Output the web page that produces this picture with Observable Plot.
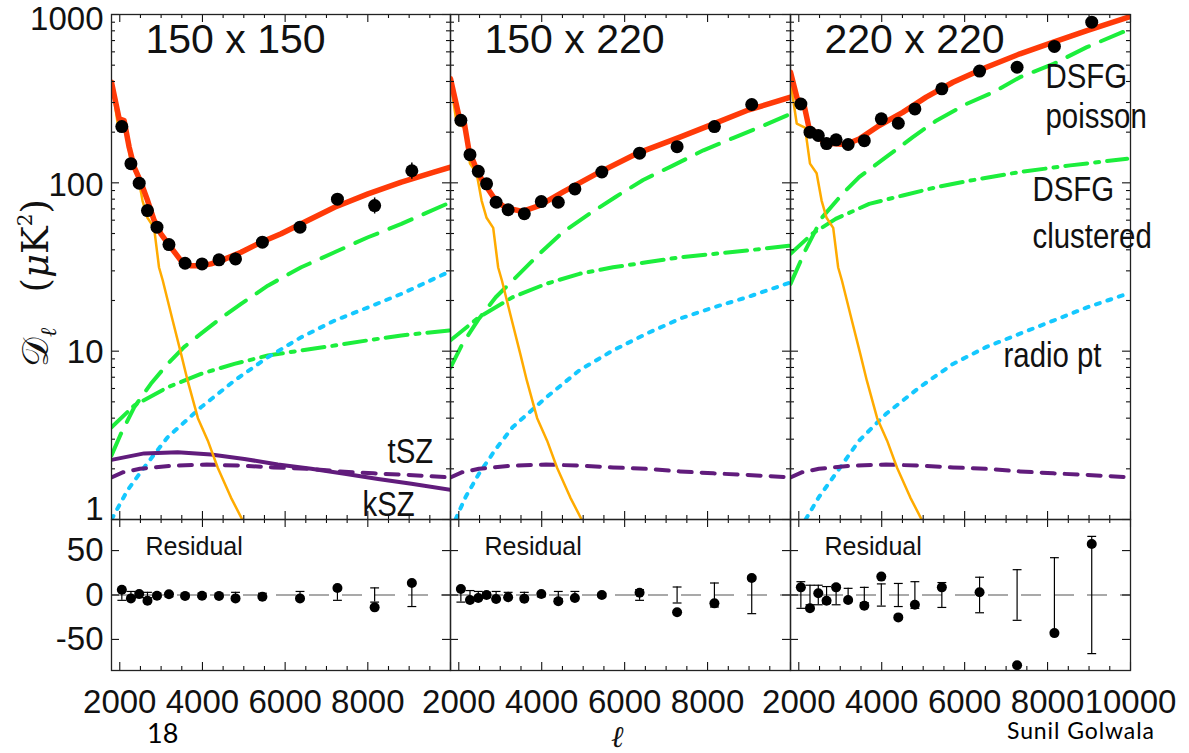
<!DOCTYPE html>
<html><head><meta charset="utf-8">
<script src="https://cdn.jsdelivr.net/npm/d3@7"></script>
<script src="https://cdn.jsdelivr.net/npm/@observablehq/plot@0.6"></script>
<style>
body{margin:0;background:#fff;}
#c{position:relative;width:1189px;height:753px;overflow:hidden;font-family:"Liberation Sans",Arial,sans-serif;}
#c svg{position:absolute;overflow:visible;}
.note{position:absolute;font-family:Lato,"Open Sans",sans-serif;color:#000;white-space:nowrap;line-height:1;}
.ylab{position:absolute;left:37px;top:283px;transform:translate(-50%,-50%) rotate(-90deg);font-family:"DejaVu Serif",serif;font-size:37px;color:#111;white-space:nowrap;line-height:1;}
.ylab sub{font-size:22px;font-style:italic;vertical-align:-8px;}
.ylab sup{font-size:20px;vertical-align:16px;}
.xlab{position:absolute;left:611px;top:722px;font-family:"DejaVu Serif",serif;font-style:italic;font-size:30px;color:#111;line-height:1;}
</style></head><body><div id="c"></div>
<script>
// ---------------- data ----------------
const panelTitles = ["150 x 150", "150 x 220", "220 x 220"];
const xTickLabelsLeft = [2000, 4000, 6000, 8000];
const xTickLabelsRight = [2000, 4000, 6000, 8000, 10000];
const yTickLabelsTop = [1, 10, 100, 1000];
const yTickLabelsRes = [-50, 0, 50];

// band-power multipole centres (shared)
const bandEll = [2050, 2270, 2470, 2670, 2900, 3190, 3580, 3990, 4400, 4800, 5450, 6360, 7265, 8165, 9065];

// measured D_l (uK^2)
const data150x150 = [216, 130, 99.6, 68.4, 54.5, 43, 33.3, 33, 34.9, 35.3, 44.4, 54.5, 80, 73.3, 118];
const data150x220 = [235, 147, 117, 98.6, 76.7, 69.2, 65.5, 77.4, 76.7, 92, 116, 150, 164, 216, 292];
const data220x220 = [294, 200, 191, 171, 180, 169, 178, 240, 226, 275, 362, 461, 486, 646, 900];

// residuals and errors (uK^2)
const res150x150 = [6.0, -3.8, 1.1, -6.4, -0.8, 0.8, -1.1, -0.8, -1.1, -3.8, -1.9, -3.8, 7.9, -13.9, 13.5];
const res150x220 = [6.8, -5.6, -3.4, 0, -4.5, -2.6, -4.1, 1.1, -7.1, -3.4, 0, 2.6, -19.5, -9.4, 19.2];
const res220x220 = [8.6, -15, 1.9, -6.4, 8.6, -5.6, -12, 20.7, -25.2, -10.9, 8.6, 3, -79, -42.9, 57.5];
const err150x150 = [6, 4, 3, 3, 2, 2, 2, 2, 2, 3, 2, 4, 6, 8, 13];
const err150x220 = [8, 5, 4, 3, 4, 3, 3, 2, 4, 4, 2, 6, 9, 13.5, 21];
const err220x220 = [15, 11, 11, 9.5, 11, 7.5, 8.6, 12.5, 13, 15, 14, 20, 28.5, 42, 66];

// primary CMB (same in all panels)
const cmbEll = [1800, 1950, 2150, 2270, 2430, 2550, 2670, 2830, 2950, 3040, 3160, 3280, 3480, 3640, 3890, 4130, 4370, 4690, 4980, 5100];
const cmbD   = [400, 225, 213, 130, 114, 78.5, 62, 54, 31.4, 26.3, 20, 15.2, 9.7, 6.7, 4.0, 2.94, 2.03, 1.35, 0.98, 0.85];

// kSZ (same in all panels)
const kszEll = [1800, 2084, 2486, 3294, 4103, 4911, 5719, 6527, 7334, 8142, 8949, 10000];
const kszD   = [1.78, 1.91, 2.0, 2.09, 2.12, 2.09, 2.04, 2.0, 1.93, 1.88, 1.84, 1.78];

// tSZ (150 x 150 only)
const tszEll = [1800, 2590, 3400, 4207, 5014, 5824, 6631, 7438, 8248, 9055, 10000];
const tszD   = [2.26, 2.47, 2.51, 2.43, 2.29, 2.12, 2.0, 1.87, 1.74, 1.63, 1.50];

// total model
const total150x150Ell = [1800, 1985, 2106, 2227, 2348, 2510, 2673, 2833, 2995, 3237, 3480, 3722, 3964, 4207, 4449, 4934, 5418, 5903, 6388, 7196, 8005, 8812, 9620, 10000];
const total150x150    = [396, 240, 234, 163, 124, 101, 78.5, 59.7, 49.8, 41.4, 34.5, 32.2, 32.2, 33.0, 34.5, 38.7, 44.4, 49.8, 57.1, 71.6, 86, 101, 116, 124];
const total150x220Ell = [1800, 2001, 2122, 2244, 2406, 2568, 2729, 2891, 3133, 3538, 3940, 4507, 5315, 6284, 7334, 8143, 8950, 10000];
const total150x220    = [415, 251, 235, 156, 124, 103, 90, 78.5, 71, 67.7, 73.3, 88, 113, 149, 187, 224, 269, 323];
const total220x220Ell = [1800, 1962, 2122, 2243, 2406, 2568, 2810, 3133, 3455, 3940, 4507, 5072, 5719, 6526, 7334, 8142, 8949, 10000];
const total220x220    = [454, 316, 294, 214, 200, 178, 171, 169, 182, 219, 262, 323, 396, 486, 584, 685, 803, 973];

// DSFG poisson
const poisson150x150Ell = [1800, 2025, 2348, 2752, 3157, 3560, 3964, 4369, 4934, 5581, 6389, 7196, 8005, 8812, 10000];
const poisson150x150    = [2.4, 3.22, 4.64, 6.4, 8.4, 10.6, 12.7, 15.2, 19.1, 24.5, 31.5, 38.7, 47.5, 57, 76.7];
const poisson150x220Ell = [1800, 2083, 2486, 2891, 3417, 3940, 4507, 5153, 5799, 6446, 7173, 7900, 8627, 9355, 10000];
const poisson150x220    = [8.0, 11, 15.6, 20.9, 28.1, 37.8, 50.9, 65.5, 83, 104, 127, 156, 185, 219, 257];
const poisson220x220Ell = [1800, 2164, 2568, 3053, 3455, 4103, 4750, 5314, 6041, 6688, 7334, 8142, 8949, 10000];
const poisson220x220    = [25.1, 40, 62.5, 86, 108, 142, 187, 234, 294, 345, 424, 509, 640, 822];

// DSFG clustered
const clust150x150Ell = [1800, 2348, 3157, 3964, 4772, 5581, 6389, 7196, 8005, 8812, 10000];
const clust150x150    = [3.53, 4.75, 6.1, 7.33, 8.4, 9.42, 10.1, 10.8, 11.6, 12.4, 13.3];
const clust150x220Ell = [1800, 2486, 3295, 4103, 4910, 5719, 6527, 7334, 8143, 8950, 10000];
const clust150x220    = [11.6, 15.9, 20.9, 25.1, 28.8, 31.5, 33.7, 36.1, 37.8, 39.6, 42.4];
const clust220x220Ell = [1800, 2325, 2890, 3698, 4507, 5314, 6122, 7334, 8546, 9920];
const clust220x220    = [37.9, 49.8, 61.1, 75, 84.1, 94.2, 103, 116, 127, 139];

// radio point sources
const radio150x150Ell = [1800, 2186, 2590, 3157, 3964, 4772, 5581, 6389, 7196, 8005, 8812, 9860];
const radio150x150    = [1.0, 1.49, 2.04, 3.08, 4.64, 6.68, 9.2, 12.1, 15.2, 18.2, 21.9, 28.8];
const radio150x220Ell = [1921, 2164, 2486, 2891, 3295, 4103, 4910, 5719, 6527, 7334, 8143, 8950, 10000];
const radio150x220    = [1.0, 1.36, 1.87, 2.62, 3.53, 5.3, 7.7, 10.1, 12.7, 15.6, 18.2, 20.9, 25.6];
const radio220x220Ell = [2164, 2486, 2890, 3455, 4103, 4911, 5719, 6527, 7334, 8143, 8950, 9920];
const radio220x220    = [1.0, 1.36, 1.87, 2.94, 4.24, 6.1, 8.4, 10.6, 12.7, 15.2, 18.2, 21.9];

// ---------------- build ----------------
const RED = "#ff3a08", ORANGE = "#ffab00", GREEN = "#1cee3c", BLUE = "#14c8ff", PURPLE = "#611c7c";
const pts = (xs, ys) => xs.map((x, i) => ({ell: x, D: ys[i]}));

const panels = [
  {title: panelTitles[0], D: data150x150, res: res150x150, err: err150x150,
   total: pts(total150x150Ell, total150x150), poisson: pts(poisson150x150Ell, poisson150x150),
   clust: pts(clust150x150Ell, clust150x150), radio: pts(radio150x150Ell, radio150x150),
   tsz: pts(tszEll, tszD), xLabels: xTickLabelsLeft},
  {title: panelTitles[1], D: data150x220, res: res150x220, err: err150x220,
   total: pts(total150x220Ell, total150x220), poisson: pts(poisson150x220Ell, poisson150x220),
   clust: pts(clust150x220Ell, clust150x220), radio: pts(radio150x220Ell, radio150x220),
   tsz: null, xLabels: xTickLabelsLeft},
  {title: panelTitles[2], D: data220x220, res: res220x220, err: err220x220,
   total: pts(total220x220Ell, total220x220), poisson: pts(poisson220x220Ell, poisson220x220),
   clust: pts(clust220x220Ell, clust220x220), radio: pts(radio220x220Ell, radio220x220),
   tsz: null, xLabels: xTickLabelsRight}
];

const PL = [111, 450, 790], PW = [339, 340, 340];
const TOP_Y = 14, TOP_H = 505, RES_Y = 519, RES_H = 151;
const xMajor = d3.range(2000, 10001, 2000);
const xMinor = d3.range(2000, 10001, 500).filter(v => v % 2000 !== 0);
const logMajor = [1, 10, 100, 1000];
const logMinor = [1, 10, 100].flatMap(d => d3.range(2, 10).map(k => k * d));
const CONDENSED = ["DSFG", "poisson", "clustered", "radio pt", "tSZ", "kSZ"];

function edgeTicks(W, H, yMaj, yMin) {
  const s = {stroke: "#111", strokeWidth: 1.1};
  const M = 8, m = 4;
  return [
    Plot.ruleX(xMajor, {x: d => d, insetTop: H - M, ...s}),
    Plot.ruleX(xMinor, {x: d => d, insetTop: H - m, ...s}),
    Plot.ruleX(xMajor, {x: d => d, insetBottom: H - M, ...s}),
    Plot.ruleX(xMinor, {x: d => d, insetBottom: H - m, ...s}),
    Plot.ruleY(yMaj, {y: d => d, insetRight: W - M, ...s}),
    Plot.ruleY(yMin, {y: d => d, insetRight: W - m, ...s}),
    Plot.ruleY(yMaj, {y: d => d, insetLeft: W - M, ...s}),
    Plot.ruleY(yMin, {y: d => d, insetLeft: W - m, ...s})
  ];
}

// horizontally condense the annotation labels (the original uses a narrow face)
function condense(svg, k) {
  svg.querySelectorAll("text").forEach(t => {
    if (!CONDENSED.includes(t.textContent)) return;
    const tr = t.getAttribute("transform");
    if (tr) t.setAttribute("transform", tr + ` scale(${k},1)`);
    else {
      const x = +t.getAttribute("x") || 0, y = +t.getAttribute("y") || 0;
      t.removeAttribute("x"); t.removeAttribute("y");
      t.setAttribute("transform", `translate(${x},${y}) scale(${k},1)`);
    }
  });
}

// small vertical offsets of the decade labels, as placed in the original
const topLabelShift = v => v === 1 ? -10 : v === 1000 ? 5 : v === 100 ? 3 : 1;

const capSymbol = {draw(ctx, size) { const r = Math.sqrt(size); ctx.moveTo(-r, 0); ctx.lineTo(r, 0); }};
const container = document.getElementById("c");

panels.forEach((p, i) => {
  const W = PW[i];
  const band = bandEll.map((e, k) => ({ell: e, D: p.D[k], err: p.err[k], res: p.res[k]}));
  const lab = (t, dx, dy) => Plot.text([t], {text: d => d, frameAnchor: "top-left", dx, dy, lineAnchor: "bottom", textAnchor: "start", fontSize: 35, fill: "#111"});
  const topMarks = [
    Plot.line(p.poisson, {x: "ell", y: "D", stroke: GREEN, strokeWidth: 4, strokeDasharray: "24,13", clip: true}),
    Plot.line(p.clust, {x: "ell", y: "D", stroke: GREEN, strokeWidth: 4, strokeDasharray: "22,8,4,8", clip: true}),
    Plot.line(p.radio, {x: "ell", y: "D", stroke: BLUE, strokeWidth: 4, strokeDasharray: "4,8", clip: true}),
    p.tsz ? Plot.line(p.tsz, {x: "ell", y: "D", stroke: PURPLE, strokeWidth: 4, clip: true}) : null,
    Plot.line(pts(kszEll, kszD), {x: "ell", y: "D", stroke: PURPLE, strokeWidth: 4, strokeDasharray: "13,10", clip: true}),
    Plot.line(pts(cmbEll, cmbD), {x: "ell", y: "D", stroke: ORANGE, strokeWidth: 2.5, clip: true}),
    Plot.line(p.total, {x: "ell", y: "D", stroke: RED, strokeWidth: 5.5, clip: true}),
    Plot.ruleX(band, {x: "ell", y1: d => d.D - d.err, y2: d => d.D + d.err, stroke: "#000", strokeWidth: 1.5}),
    Plot.dot(band, {x: "ell", y: "D", r: 6.5, fill: "#000"}),
    ...edgeTicks(W, TOP_H, logMajor, logMinor),
    Plot.frame({stroke: "#222", strokeWidth: 1.3}),
    Plot.text([p.title], {text: d => d, frameAnchor: "top-left", dx: 34, dy: 38, lineAnchor: "bottom", textAnchor: "start", fontSize: 41, fill: "#111"})
  ];
  if (i === 0) {
    yTickLabelsTop.forEach(v => topMarks.push(
      Plot.text([v], {y: d => d, text: d => String(d), frameAnchor: "left", dx: -8, dy: topLabelShift(v), textAnchor: "end", fontSize: 33, fill: "#111"})));
    topMarks.push(lab("tSZ", 276, 448), lab("kSZ", 251, 501));
  }
  if (i === 2) {
    topMarks.push(lab("DSFG", 255, 73), lab("poisson", 255, 113), lab("DSFG", 242, 186), lab("clustered", 242, 233), lab("radio pt", 213, 352));
  }
  const top = Plot.plot({
    width: W, height: TOP_H, margin: 0,
    x: {domain: [1800, 10000], axis: null},
    y: {type: "log", domain: [1, 1000], axis: null},
    style: {overflow: "visible", fontFamily: "'Liberation Sans', Arial, sans-serif"},
    marks: topMarks.filter(Boolean)
  });
  condense(top, 0.84);
  top.style.left = PL[i] + "px"; top.style.top = TOP_Y + "px";
  container.appendChild(top);

  const resMarks = [
    Plot.ruleY([0], {stroke: "#555", strokeWidth: 1.2, strokeDasharray: "20,13"}),
    Plot.ruleX(band, {x: "ell", y1: d => -d.err, y2: d => d.err, stroke: "#000", strokeWidth: 1.2}),
    Plot.dot(band, {x: "ell", y: d => d.err, symbol: capSymbol, r: 2.5, stroke: "#000", strokeWidth: 1.2}),
    Plot.dot(band, {x: "ell", y: d => -d.err, symbol: capSymbol, r: 2.5, stroke: "#000", strokeWidth: 1.2}),
    Plot.dot(band, {x: "ell", y: "res", r: 5, fill: "#000", clip: true}),
    ...edgeTicks(W, RES_H, yTickLabelsRes, []),
    Plot.frame({stroke: "#222", strokeWidth: 1.3}),
    Plot.text(["Residual"], {text: d => d, frameAnchor: "top-left", dx: 34, dy: 35, lineAnchor: "bottom", textAnchor: "start", fontSize: 25, fill: "#111"}),
    Plot.text(p.xLabels, {x: d => d, text: d => String(d), frameAnchor: "bottom", dy: 42, lineAnchor: "bottom", fontSize: 33, fill: "#111"})
  ];
  if (i === 0) {
    resMarks.push(Plot.text(yTickLabelsRes, {y: d => d, text: d => String(d), frameAnchor: "left", dx: -8, textAnchor: "end", fontSize: 33, fill: "#111"}));
  }
  const res = Plot.plot({
    width: W, height: RES_H, margin: 0,
    x: {domain: [1800, 10000], axis: null},
    y: {domain: [-85, 85], axis: null},
    style: {overflow: "visible", fontFamily: "'Liberation Sans', Arial, sans-serif"},
    marks: resMarks
  });
  res.style.left = PL[i] + "px"; res.style.top = RES_Y + "px";
  container.appendChild(res);
});

// axis titles, slide number and credit
const yl = document.createElement("div"); yl.className = "ylab";
yl.innerHTML = "𝒟<sub>ℓ</sub>&nbsp;&nbsp;&nbsp;(<i>μ</i>K<sup>2</sup>)";
container.appendChild(yl);
const xl = document.createElement("div"); xl.className = "xlab"; xl.textContent = "ℓ";
container.appendChild(xl);
const n1 = document.createElement("div"); n1.className = "note"; n1.textContent = "18";
n1.style.cssText = "left:147px;top:719px;font-size:27px;";
container.appendChild(n1);
const n2 = document.createElement("div"); n2.className = "note"; n2.textContent = "Sunil Golwala";
n2.style.cssText = "left:1007px;top:719px;font-size:23px;letter-spacing:0.9px;";
container.appendChild(n2);
</script>
</body></html>
